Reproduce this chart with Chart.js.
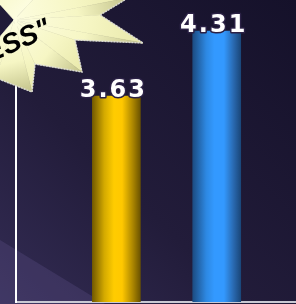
<!DOCTYPE html>
<html lang="en">
<head>
  <meta charset="UTF-8">
  <title>Score comparison</title>
  <script src="https://cdn.jsdelivr.net/npm/chart.js"></script>
  <style>
    html, body {
      margin: 0;
      padding: 0;
      background: #1e1933;
    }
    #chart-container {
      width: 296px;
      height: 304px;
    }
  </style>
</head>
<body>

<div id="chart-container">
  <canvas id="scoreChart" width="296" height="304"></canvas>
</div>

<script>
  // Data
  const categories = ['Group 1', 'Group 2'];
  const scores = [3.63, 4.31];
  const barBase = ['#ffcc00', '#3399ff'];
  const starLines = ['"MORE', 'LESS"'];

  // Gradient stops per bar (gold, blue)
  const barStops = [
    [[0, '#735a00'], [0.25, '#d4aa00'], [0.45, '#ffcc00'], [0.62, '#ffc800'], [0.85, '#a98400'], [1, '#6b5300']],
    [[0, '#1c4c82'], [0.28, '#2d88e2'], [0.45, '#3399ff'], [0.65, '#3399ff'], [0.85, '#2969b0'], [1, '#1a477a']]
  ];
  const BAR_W = 48;

  // shade each bar like a cylinder once its position is known
  const barShading = {
    id: 'barShading',
    beforeDatasetsDraw(chart) {
      const meta = chart.getDatasetMeta(0);
      meta.data.forEach((bar, i) => {
        if (!isFinite(bar.x)) return;
        const g = chart.ctx.createLinearGradient(bar.x - BAR_W / 2, 0, bar.x + BAR_W / 2, 0);
        barStops[i].forEach(s => g.addColorStop(s[0], s[1]));
        bar.options = Object.assign({}, bar.options, { backgroundColor: g });
      });
    }
  };

  // dark purple background with the lighter band at the lower left
  const backdrop = {
    id: 'backdrop',
    beforeDraw(chart) {
      const ctx = chart.ctx;
      const w = chart.width, h = chart.height;
      ctx.save();
      const g = ctx.createLinearGradient(0, h, w, 0);
      g.addColorStop(0, '#332c54');
      g.addColorStop(0.4, '#221c3a');
      g.addColorStop(1, '#15112a');
      ctx.fillStyle = g;
      ctx.fillRect(0, 0, w, h);
      ctx.beginPath();
      ctx.moveTo(0, 240);
      ctx.lineTo(105, h);
      ctx.lineTo(0, h);
      ctx.closePath();
      ctx.fillStyle = 'rgba(95, 84, 140, 0.3)';
      ctx.fill();
      ctx.restore();
    }
  };

  // the pale starburst callout in the corner
  const starburst = {
    id: 'starburst',
    afterDraw(chart) {
      const ctx = chart.ctx;
      const c = [14, 20];
      const pts = [[-40, -40], [70, -40], [128, -2], [100, 15], [143, 43], [75, 40],
                   [82, 72], [35, 64], [32, 92], [-4, 78], [-40, 84]];
      ctx.save();
      for (let i = 0; i < pts.length - 1; i++) {
        const a = pts[i], b = pts[i + 1];
        const lit = i % 2 === 1;
        const tip = lit ? b : a;
        const g = ctx.createLinearGradient(c[0], c[1], tip[0], tip[1]);
        g.addColorStop(0, '#fdfde0');
        g.addColorStop(0.55, '#f6f6c4');
        g.addColorStop(1, lit ? '#e8e8aa' : '#c2c28a');
        ctx.beginPath();
        ctx.moveTo(c[0], c[1]);
        ctx.lineTo(a[0], a[1]);
        ctx.lineTo(b[0], b[1]);
        ctx.closePath();
        ctx.fillStyle = g;
        ctx.fill();
        ctx.strokeStyle = g;
        ctx.lineWidth = 0.6;
        ctx.stroke();
      }
      ctx.beginPath();
      pts.forEach((p, i) => i ? ctx.lineTo(p[0], p[1]) : ctx.moveTo(p[0], p[1]));
      ctx.strokeStyle = 'rgba(225, 225, 225, 0.85)';
      ctx.setLineDash([2, 1]);
      ctx.lineWidth = 1.5;
      ctx.stroke();
      ctx.setLineDash([]);

      ctx.translate(-4, 60);
      ctx.rotate(-24 * Math.PI / 180);
      ctx.font = 'bold italic 28px "Liberation Sans"';
      ctx.fillStyle = '#000000';
      ctx.textBaseline = 'alphabetic';
      ctx.textAlign = 'right';
      ctx.fillText(starLines[0], 14, -34);
      ctx.fillText(starLines[1], 62, 0);
      ctx.restore();
    }
  };

  // value labels above each bar
  const valueLabels = {
    id: 'valueLabels',
    afterDatasetsDraw(chart) {
      const ctx = chart.ctx;
      const meta = chart.getDatasetMeta(0);
      ctx.save();
      ctx.font = 'bold 24px "DejaVu Sans"';
      ctx.letterSpacing = '2px';
      ctx.textAlign = 'center';
      ctx.textBaseline = 'alphabetic';
      ctx.lineJoin = 'round';
      meta.data.forEach((bar, i) => {
        const txt = scores[i].toFixed(2);
        ctx.strokeStyle = '#2b2145';
        ctx.lineWidth = 3;
        ctx.strokeText(txt, bar.x - 3, bar.y + 1);
        ctx.fillStyle = '#ffffff';
        ctx.fillText(txt, bar.x - 3, bar.y + 1);
      });
      ctx.restore();
    }
  };

  const ctx = document.getElementById('scoreChart').getContext('2d');
  new Chart(ctx, {
    type: 'bar',
    data: {
      labels: categories,
      datasets: [{
        data: scores.map((v, i) => ({ x: i + 1, y: v })),
        backgroundColor: barBase,
        borderWidth: 0,
        barThickness: BAR_W
      }]
    },
    options: {
      responsive: false,
      animation: false,
      layout: { padding: { left: 16, top: 0, right: 0, bottom: 2 } },
      scales: {
        x: {
          type: 'linear',
          offset: false,
          min: 0,
          max: 2.79,
          ticks: { display: false },
          grid: { display: false, drawTicks: false },
          border: { display: true, color: '#c9c9d4', width: 2 }
        },
        y: {
          min: 1.475,
          max: 4.634,
          ticks: { display: false },
          grid: { display: false, drawTicks: false },
          border: { display: true, color: '#ffffff', width: 2 }
        }
      },
      plugins: {
        legend: { display: false },
        tooltip: { enabled: false }
      }
    },
    plugins: [backdrop, barShading, starburst, valueLabels]
  });
</script>
</body>
</html>
